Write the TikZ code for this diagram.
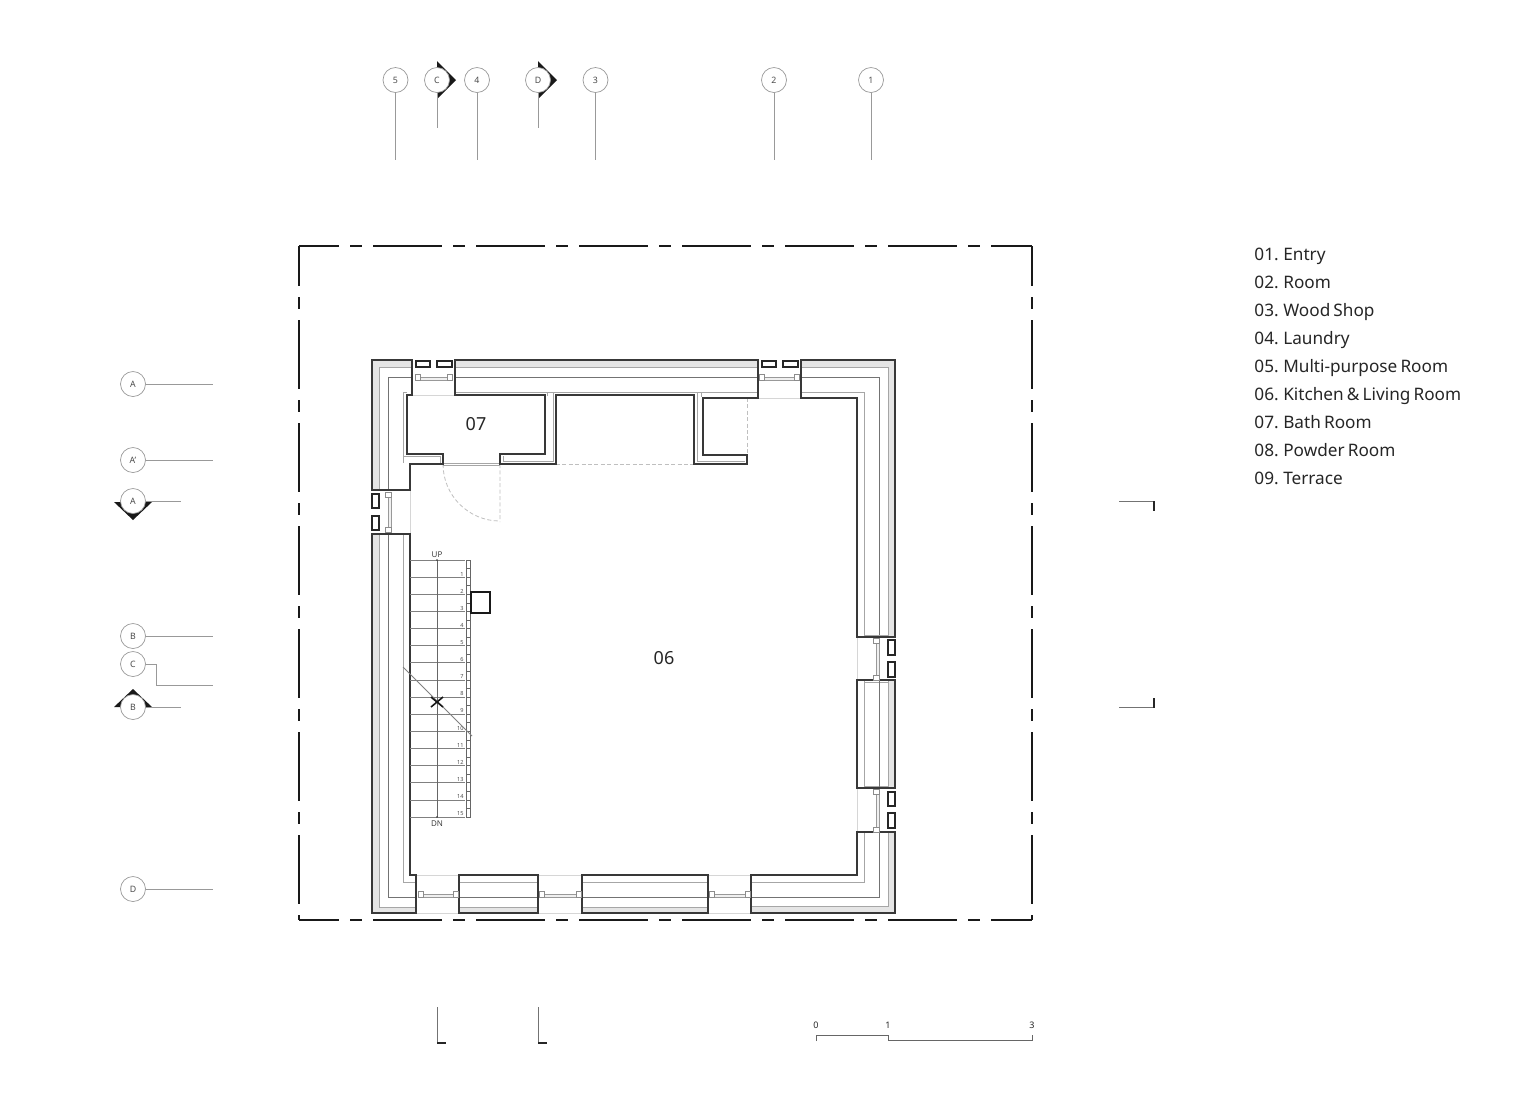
\documentclass[tikz,border=0pt]{standalone}
\usepackage{fontspec}
\setmainfont{Noto Sans}
\newfontfamily\legfont[WordSpace=0.7]{Noto Sans}
\tikzset{
  x=0.5pt,y=-0.5pt,
  wall/.style={draw=black!78,line width=0.85pt,fill=white,line join=miter},
  hatchfill/.style={fill=black!10,draw=none},
  lay/.style={draw=black!35,line width=0.5pt},
  laydark/.style={draw=black!55,line width=0.5pt},
  thin gray/.style={draw=black!16,line width=0.4pt},
  dashgray/.style={draw=black!25,line width=0.4pt,dash pattern=on 2pt off 1.2pt},
  shutter/.style={draw=black!85,line width=0.75pt,fill=white},
  frameb/.style={draw=black!45,line width=0.3pt,fill=white},
  glass/.style={draw=black!40,line width=0.3pt,fill=black!6},
  boundary/.style={draw=black!90,line width=0.8pt,dash pattern=on 34.5pt off 5.5pt on 6pt off 5.5pt,dash phase=14.5pt},
  bubble/.style={circle,draw=black!40,line width=0.35pt,fill=white,minimum size=12.5pt,inner sep=0pt,font=\fontsize{4.4}{5}\selectfont,text=black!70},
  bline/.style={draw=black!40,line width=0.4pt},
  marker/.style={fill=black!90,draw=none},
  roomlabel/.style={font=\fontsize{9}{11}\selectfont,text=black!85},
  legend/.style={font=\legfont\fontsize{8.6}{11}\selectfont,text=black!85,anchor=base west,inner sep=0pt},
  stepnum/.style={font=\fontsize{2.8}{3}\selectfont,text=black!70,inner sep=0pt},
  stairtext/.style={font=\fontsize{4}{5}\selectfont,text=black!75,inner sep=0pt},
  scaletext/.style={font=\fontsize{4.5}{5}\selectfont,text=black!85,inner sep=0pt},
  secmark/.style={draw=black!55,line width=0.45pt},
  secend/.style={draw=black!85,line width=0.8pt}
}
\newcommand{\hwin}[3]{% x1 x2 y
  \draw[glass] (#1+5,#3) rectangle (#2-5,#3+3);
  \draw[frameb] (#1,#3-3) rectangle (#1+5,#3+3);
  \draw[frameb] (#2-5,#3-3) rectangle (#2,#3+3);
}
\newcommand{\vwin}[3]{% y1 y2 x
  \draw[glass] (#3,#1+5) rectangle (#3+3,#2-5);
  \draw[frameb] (#3-3,#1) rectangle (#3+3,#1+5);
  \draw[frameb] (#3-3,#2-5) rectangle (#3+3,#2);
}
\begin{document}
\begin{tikzpicture}
\useasboundingbox[fill=white] (0,0) rectangle (1527,1100);

% property boundary
\draw[boundary] (299,246) -- (1032,246);
\draw[boundary] (299,920) -- (1032,920);
\draw[boundary] (299,246) -- (299,920);
\draw[boundary] (1032,246) -- (1032,920);

% thin lines across the openings
\draw[thin gray] (412,395)--(455,395) (758,398)--(801,398) (410,490)--(410,534)
  (857,637)--(857,680) (857,788)--(857,832)
  (416,875)--(459,875) (538,875)--(582,875) (708,875)--(751,875)
  (416,913)--(459,913) (538,913)--(582,913) (708,913)--(751,913);

% door and dashed lines
\draw[dashgray] (500,464)--(500,522) (443,464) arc[start angle=180,end angle=90,radius=57];
\draw[dashgray] (556,464)--(694,464) (747,398)--(747,455);
\draw[draw=black!35,line width=0.3pt] (443,463)--(500,463) (443,465.5)--(500,465.5);

% top-left corner wall
\draw[wall] (372,360)--(412,360)--(412,395)--(407,395)--(407,454)--(443,454)--(443,464)--(410,464)--(410,490)--(372,490)--cycle;
\fill[hatchfill] (373,361)--(411.5,361)--(411.5,367)--(379,367)--(379,489.5)--(373,489.5)--cycle;
\draw[lay] (412,367)--(379,367)--(379,490);
\draw[laydark] (412,377)--(388,377)--(388,489);
\draw[lay] (407,392)--(403,392)--(403,463);
\draw[lay] (404,456)--(440,456)--(440,463);
\draw[wall,fill=none] (372,360)--(412,360)--(412,395)--(407,395)--(407,454)--(443,454)--(443,464)--(410,464)--(410,490)--(372,490)--cycle;

% top wall with bathroom partitions
\draw[wall] (455,360)--(758,360)--(758,398)--(703,398)--(703,455)--(747,455)--(747,464)--(694,464)--(694,395)--(556,395)--(556,464)--(500,464)--(500,454)--(545,454)--(545,395)--(455,395)--cycle;
\fill[hatchfill] (456,361)--(757,361)--(757,367)--(456,367)--cycle;
\draw[lay] (456,367)--(757,367);
\draw[laydark] (456,377)--(757,377);
\draw[lay] (456,392)--(757,392);
\draw[lay] (547.5,392)--(547.5,396);
\draw[lay] (553,393)--(553,461)--(503,461)--(503,456);
\draw[lay] (697,393)--(697,461)--(745,461);
\draw[lay] (701.5,393)--(701.5,397);
\draw[wall,fill=none] (455,360)--(758,360)--(758,398)--(703,398)--(703,455)--(747,455)--(747,464)--(694,464)--(694,395)--(556,395)--(556,464)--(500,464)--(500,454)--(545,454)--(545,395)--(455,395)--cycle;

% top-right corner wall
\draw[wall] (801,360)--(895,360)--(895,637)--(857,637)--(857,398)--(801,398)--cycle;
\fill[hatchfill] (802,361)--(894,361)--(894,636)--(888,636)--(888,367)--(802,367)--cycle;
\draw[lay] (802,367)--(888,367)--(888,636);
\draw[laydark] (802,377)--(879,377)--(879,636);
\draw[lay] (802,392)--(864,392)--(864,635);
\draw[lay] (864,635)--(888,635);
\draw[wall,fill=none] (801,360)--(895,360)--(895,637)--(857,637)--(857,398)--(801,398)--cycle;

% right middle wall
\draw[wall] (857,680)--(895,680)--(895,788)--(857,788)--cycle;
\fill[hatchfill] (888,681)--(894,681)--(894,787)--(888,787)--cycle;
\draw[lay] (888,681)--(888,787) (864,681)--(864,787) (864,682)--(888,682) (864,786)--(888,786);
\draw[laydark] (879,681)--(879,787);

% bottom-right corner wall
\draw[wall] (857,832)--(895,832)--(895,913)--(751,913)--(751,875)--(857,875)--cycle;
\fill[hatchfill] (888,833)--(894,833)--(894,912)--(752,912)--(752,906)--(888,906)--cycle;
\draw[lay] (888,833)--(888,906)--(752,906);
\draw[laydark] (879,833)--(879,897)--(752,897);
\draw[lay] (864,833)--(864,882)--(752,882);
\draw[wall,fill=none] (857,832)--(895,832)--(895,913)--(751,913)--(751,875)--(857,875)--cycle;

% bottom wall pieces
\foreach \xa/\xb in {459/538,582/708}{
  \draw[wall] (\xa,875) rectangle (\xb,913);
  \fill[hatchfill] (\xa+1,907) rectangle (\xb-1,912);
  \draw[lay] (\xa+1,882)--(\xb-1,882) (\xa+1,907)--(\xb-1,907);
  \draw[laydark] (\xa+1,897)--(\xb-1,897);
}

% bottom-left corner wall
\draw[wall] (372,534)--(410,534)--(410,875)--(416,875)--(416,913)--(372,913)--cycle;
\fill[hatchfill] (373,535)--(379,535)--(379,907)--(415,907)--(415,912)--(373,912)--cycle;
\draw[lay] (379,535)--(379,907)--(415,907);
\draw[laydark] (388,535)--(388,897)--(415,897);
\draw[lay] (403,535)--(403,882)--(415,882);
\draw[wall,fill=none] (372,534)--(410,534)--(410,875)--(416,875)--(416,913)--(372,913)--cycle;

% shutters
\draw[shutter] (416,361) rectangle (430,367);
\draw[shutter] (437,361) rectangle (452,367);
\draw[shutter] (762,361) rectangle (776,367);
\draw[shutter] (783,361) rectangle (798,367);
\draw[shutter] (372,494) rectangle (379,508);
\draw[shutter] (372,516) rectangle (379,530);
\draw[shutter] (888,640) rectangle (895,655);
\draw[shutter] (888,662) rectangle (895,677);
\draw[shutter] (888,792) rectangle (895,806);
\draw[shutter] (888,813) rectangle (895,828);

% windows
\hwin{415}{452}{377}
\hwin{759}{799}{377.5}
\hwin{418}{458}{894}
\hwin{539}{581}{894}
\hwin{709}{750}{894}
\vwin{492}{532}{388}
\vwin{638}{680}{876.5}
\vwin{789}{832}{876.5}

% stairs
\foreach \i in {0,...,15}{
  \draw[draw=black!50,line width=0.3pt] (410,560+\i*17.13)--(465,560+\i*17.13);
}
\draw[draw=black!60,line width=0.35pt] (437,560)--(437,817);
\fill[black!80] (437,560) circle (0.8);
\fill[black!80] (437,817) circle (0.8);
\draw[draw=black!60,line width=0.35pt,fill=white] (466,560) rectangle (470,817);
\foreach \i in {1,...,29}{
  \draw[draw=black!60,line width=0.3pt] (466,560+\i*8.565)--(470,560+\i*8.565);
}
\foreach \i in {1,...,15}{
  \node[stepnum,anchor=east] (n\i) at (464,574+\i*17.12-17.12) {\i};
}
\node[stairtext] (up) at (437,554.5) {UP};
\node[stairtext] (dn) at (437,824) {DN};
\draw[draw=black!90,line width=0.8pt,fill=white] (471,592) rectangle (490,613);
\draw[draw=black!50,line width=0.4pt] (403,667)--(472,736);
\draw[draw=black!90,line width=0.8pt] (431,697)--(443,707) (431,707)--(443,697);

% room labels
\node[roomlabel] (r07) at (476,424) {07};
\node[roomlabel] (r06) at (664,658) {06};

% legend
\foreach \t [count=\i] in {01. Entry,02. Room,03. Wood Shop,04. Laundry,05. Multi-purpose Room,06. Kitchen \& Living Room,07. Bath Room,08. Powder Room,09. Terrace}{
  \node[legend] (leg\i) at (1254,260+\i*28-28) {\t};
}

% section markers (behind bubbles)
\fill[marker] (114,502)--(133,520)--(152,502)--cycle;
\fill[marker] (114,707)--(133,689)--(152,707)--cycle;
\fill[marker] (437,61)--(456,80)--(437,99)--cycle;
\fill[marker] (538,61)--(557,80)--(538,99)--cycle;

% top grid bubbles
\foreach \n/\lab/\x/\ye in {g5/5/395.5/160,cs/C/437/128,g4/4/477/160,ds/D/538/128,g3/3/595.5/160,g2/2/774/160,g1/1/871/160}{
  \node[bubble] (\n) at (\x,80) {\lab};
  \coordinate (\n e) at (\x,\ye);
  \draw[bline] (\n.south) -- (\n e);
}

% left grid bubbles
\foreach \n/\lab/\y/\xe in {ga/A/384/213,gap/A'/460/213,as/A/501/181,gb/B/636/213,bs/B/707/181,gd/D/889/213}{
  \node[bubble] (\n) at (133,\y) {\lab};
  \coordinate (\n e) at (\xe,\y);
  \draw[bline] (\n.east) -- (\n e);
}
\node[bubble] (gc) at (133,664) {C};
\coordinate (gce) at (213,685);
\coordinate (gcm) at (156,664);
\coordinate (gcn) at (156,685);
\draw[bline] (gc.east) -- (gcm) -- (gcn) -- (gce);

% section ends
\draw[secmark] (1119,501.5)--(1154,501.5);
\draw[secend] (1154,501)--(1154,511);
\draw[secmark] (1119,707.5)--(1154,707.5);
\draw[secend] (1154,698)--(1154,708);
\draw[secmark] (437.5,1007)--(437.5,1043);
\draw[secend] (437,1043)--(446,1043);
\draw[secmark] (538.5,1007)--(538.5,1043);
\draw[secend] (538,1043)--(547,1043);

% scale bar
\draw[draw=black!60,line width=0.5pt] (816,1041)--(816,1035)--(888,1035)--(888,1040.5)--(1032,1040.5)--(1032,1035);
\node[scaletext] (s0) at (816,1025) {0};
\node[scaletext] (s1) at (888,1025) {1};
\node[scaletext] (s3) at (1032,1025) {3};
\end{tikzpicture}
\end{document}
